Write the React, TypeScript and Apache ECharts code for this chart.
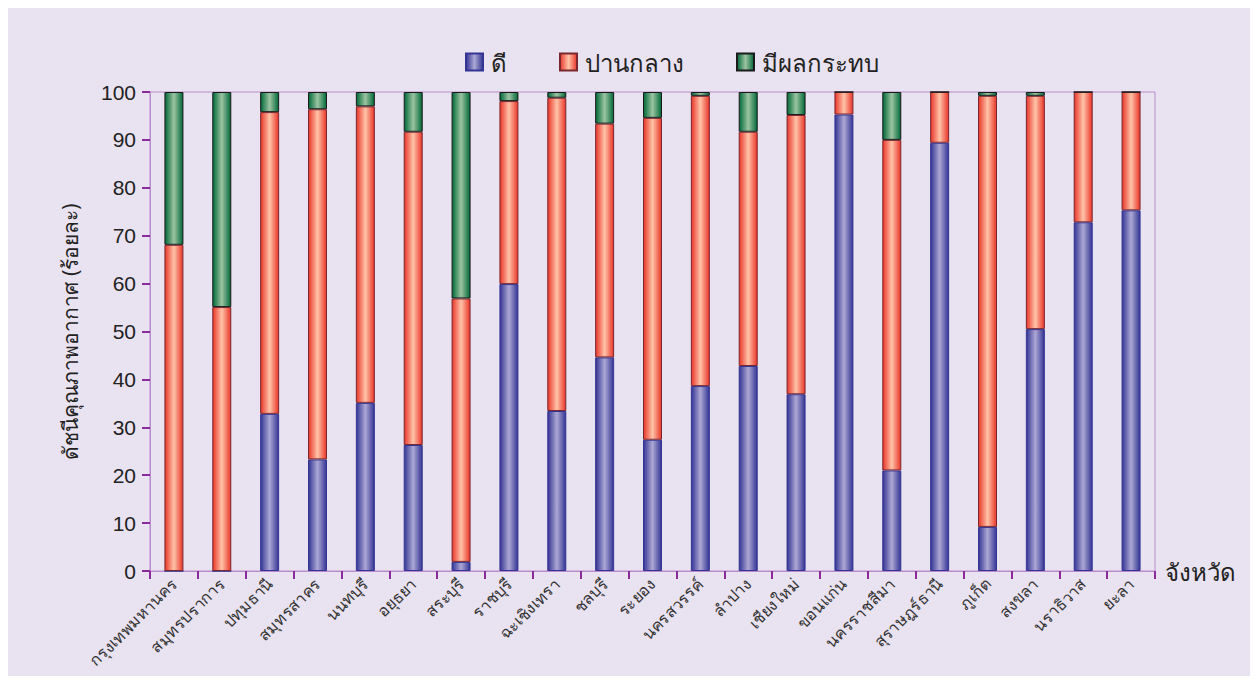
import React, { useEffect, useRef } from "react";
import * as echarts from "echarts";

const categories = [
  "กรุงเทพมหานคร", "สมุทรปราการ", "ปทุมธานี", "สมุทรสาคร", "นนทบุรี", "อยุธยา", "สระบุรี",
  "ราชบุรี", "ฉะเชิงเทรา", "ชลบุรี", "ระยอง", "นครสวรรค์", "ลำปาง", "เชียงใหม่", "ขอนแก่น",
  "นครราชสีมา", "สุราษฎร์ธานี", "ภูเก็ต", "สงขลา", "นราธิวาส", "ยะลา",
];
const seriesNames = ["ดี", "ปานกลาง", "มีผลกระทบ"];
const good = [0, 0, 32.8, 23.3, 35.1, 26.3, 1.9, 59.9, 33.4, 44.6, 27.4, 38.6, 42.8, 36.9, 95.3, 21.0, 89.4, 9.2, 50.5, 72.8, 75.3];
const moderate = [68.1, 55.1, 63.0, 73.1, 61.9, 65.4, 55.0, 38.2, 65.4, 48.8, 67.2, 60.6, 48.9, 58.3, 4.7, 69.0, 10.6, 90.0, 48.7, 27.2, 24.7];
const impact = [31.9, 44.9, 4.2, 3.6, 3.0, 8.3, 43.1, 1.9, 1.2, 6.6, 5.4, 0.8, 8.3, 4.8, 0, 10.0, 0, 0.8, 0.8, 0, 0];
const yTicks = { min: 0, max: 100, interval: 10 };
const xAxisName = "จังหวัด";
const yAxisName = "ดัชนีคุณภาพอากาศ (ร้อยละ)";

const grad = (edge: string, center: string) =>
  new echarts.graphic.LinearGradient(0, 0, 1, 0, [
    { offset: 0, color: edge },
    { offset: 0.5, color: center },
    { offset: 1, color: edge },
  ]);

export default function App() {
  const ref = useRef<HTMLDivElement>(null);
  useEffect(() => {
    if (!ref.current) return;
    const chart = echarts.init(ref.current, null, { renderer: "svg" });
    const font = "'Noto Sans', 'Liberation Sans', sans-serif";
    const styles = [
      { color: grad("#343494", "#ACA8D4"), borderColor: "#343494" },
      { color: grad("#E83528", "#FFC3A8"), borderColor: "#7A2830" },
      { color: grad("#006838", "#9CC4A2"), borderColor: "#1A1A1A" },
    ];
    const data = [good, moderate, impact];
    chart.setOption({
      animation: false,
      backgroundColor: "#E9E2F0",
      textStyle: { fontFamily: font },
      legend: {
        top: 37,
        left: 452,
        itemWidth: 17,
        itemHeight: 17,
        itemGap: 52,
        icon: "rect",
        textStyle: { fontSize: 24, color: "#222", fontFamily: font, padding: [0, 0, 0, 3] },
        data: seriesNames,
      },
      grid: {
        left: 142,
        right: 95,
        top: 84,
        bottom: 105,
        show: true,
        borderColor: "#B88CCB",
        borderWidth: 1,
        backgroundColor: "transparent",
      },
      xAxis: {
        type: "category",
        data: categories,
        name: xAxisName,
        nameLocation: "end",
        nameGap: 10,
        nameTextStyle: { fontSize: 24, color: "#222", fontFamily: font },
        axisLine: { lineStyle: { color: "#B88CCB", width: 1 } },
        axisTick: { show: true, length: 8, lineStyle: { color: "#8B2A9B", width: 2 } },
        axisLabel: { rotate: 45, fontSize: 16, color: "#333", margin: 10, fontFamily: font },
      },
      yAxis: {
        type: "value",
        min: yTicks.min,
        max: yTicks.max,
        interval: yTicks.interval,
        name: yAxisName,
        nameLocation: "middle",
        nameRotate: 90,
        nameGap: 70,
        nameTextStyle: { fontSize: 21, color: "#222", fontFamily: font },
        axisLine: { show: true, lineStyle: { color: "#B88CCB", width: 1 } },
        axisTick: { show: true, length: 8, lineStyle: { color: "#8B2A9B", width: 2 } },
        axisLabel: { fontSize: 21, color: "#222", margin: 14, fontFamily: "'Liberation Sans', sans-serif" },
        splitLine: { show: false },
      },
      series: seriesNames.map((name, i) => ({
        name,
        type: "bar",
        stack: "total",
        barWidth: 19,
        data: data[i],
        itemStyle: { ...styles[i], borderWidth: 1 },
      })),
    });
    return () => chart.dispose();
  }, []);
  return <div ref={ref} style={{ width: 1242, height: 668 }} />;
}
